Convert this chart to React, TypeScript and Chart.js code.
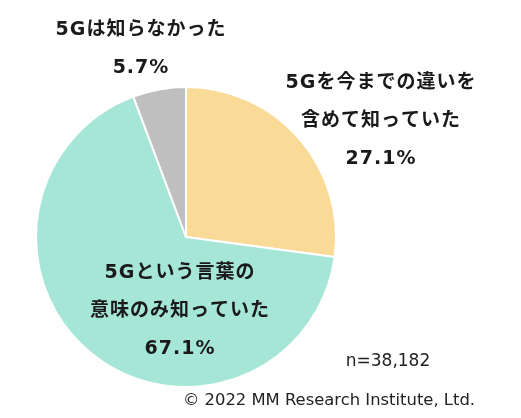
import React, { useEffect, useRef } from 'react';
import Chart from 'chart.js/auto';

const categories = ['5Gを今までの違いを含めて知っていた', '5Gという言葉の意味のみ知っていた', '5Gは知らなかった'];
const shares = [27.1, 67.1, 5.7];
const sliceColors = ['#F9DA96', '#A6E6D7', '#BFBFBF'];

// label lines per slice, and where each block sits (centre x, first line y)
const labelLines = [
  ['5Gを今までの違いを', '含めて知っていた', '27.1%'],
  ['5Gという言葉の', '意味のみ知っていた', '67.1%'],
  ['5Gは知らなかった', '5.7%'],
];
const labelAnchors = [
  { x: 381, y: 83 },
  { x: 180, y: 273 },
  { x: 141, y: 30 },
];
const lineGap = 38;
const sampleNote = 'n=38,182';
const copyright = '© 2022 MM Research Institute, Ltd.';

const labelPlugin = {
  id: 'pieLabels',
  afterDraw(chart: Chart) {
    const ctx = chart.ctx as CanvasRenderingContext2D & { letterSpacing?: string };
    ctx.save();
    ctx.textAlign = 'center';
    ctx.textBaseline = 'middle';
    ctx.fillStyle = '#1a1a1a';
    ctx.font = 'bold 19px "DejaVu Sans", "Noto Sans CJK JP", sans-serif';
    ctx.letterSpacing = '1px';
    labelLines.forEach((lines, i) => {
      const a = labelAnchors[i];
      lines.forEach((t, j) => ctx.fillText(t, a.x, a.y + j * lineGap));
    });
    ctx.letterSpacing = '0px';
    ctx.fillStyle = '#222';
    ctx.font = '17px "DejaVu Sans", sans-serif';
    ctx.fillText(sampleNote, 388, 362);
    ctx.textAlign = 'right';
    ctx.font = '16.4px "DejaVu Sans", sans-serif';
    ctx.fillText(copyright, 475, 401);
    ctx.restore();
  },
};

export default function App() {
  const canvasRef = useRef<HTMLCanvasElement>(null);
  const chartRef = useRef<Chart | null>(null);

  useEffect(() => {
    if (!canvasRef.current) return;
    const ctx = canvasRef.current.getContext('2d');
    if (!ctx) return;
    if (chartRef.current) chartRef.current.destroy();
    chartRef.current = new Chart(ctx, {
      type: 'pie',
      data: {
        labels: categories,
        datasets: [
          {
            data: shares,
            backgroundColor: sliceColors,
            borderColor: '#ffffff',
            borderWidth: 2,
            hoverOffset: 0,
          },
        ],
      },
      options: {
        responsive: true,
        maintainAspectRatio: false,
        animation: false,
        layout: { padding: { left: 35, top: 86, right: 184, bottom: 30 } },
        plugins: {
          legend: { display: false },
          tooltip: { enabled: false },
        },
      },
      plugins: [labelPlugin],
    });
    return () => {
      if (chartRef.current) chartRef.current.destroy();
      chartRef.current = null;
    };
  }, []);

  return (
    <div style={{ position: 'absolute', left: 0, top: 0, width: 521, height: 418, background: '#fff' }}>
      <canvas ref={canvasRef}></canvas>
    </div>
  );
}
